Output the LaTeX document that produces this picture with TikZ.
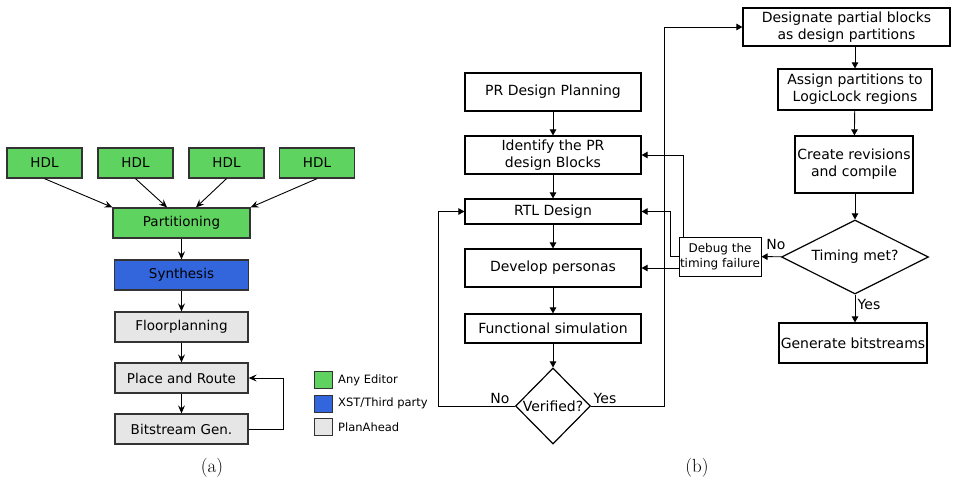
\documentclass[tikz,border=0pt]{standalone}
\usepackage{fontspec}
\newfontfamily\verd{DejaVu Sans}
\usepackage{tikz}
\usetikzlibrary{arrows.meta}
\usetikzlibrary{shapes.geometric}

\definecolor{editorgreen}{RGB}{95,211,95}
\definecolor{xstblue}{RGB}{51,102,221}
\definecolor{plangrey}{RGB}{230,230,230}

\begin{document}
\begin{tikzpicture}[x=1pt,y=-1pt,
  ablock/.style={draw=black!80,line width=1.3pt,inner sep=0pt,minimum height=30pt,font=\verd\fontsize{13.5}{15}\selectfont},
  bblock/.style={draw,line width=1.2pt,inner sep=0pt,align=center,font=\verd\fontsize{14}{17}\selectfont},
  bdec/.style={bblock,diamond,aspect=1},
  key/.style={draw=black!80,line width=1pt,inner sep=0pt,minimum width=18pt,minimum height=17pt},
  keytext/.style={anchor=west,inner sep=0pt,font=\verd\fontsize{11.5}{13}\selectfont},
  aarrow/.style={-{Stealth[length=8pt,width=7pt,inset=3pt]},line width=0.9pt},
  barrow/.style={-{Triangle[length=6pt,width=6.5pt]},line width=0.9pt},
  flowlabel/.style={inner sep=0pt,font=\verd\fontsize{14}{15}\selectfont}]
  \useasboundingbox (0,0) rectangle (958,485);

  %(a) tool flow
  \node[ablock,fill=editorgreen,minimum width=75pt] (hdl1) at (44.5,163) {HDL};
  \node[ablock,fill=editorgreen,minimum width=75pt] (hdl2) at (135.5,163) {HDL};
  \node[ablock,fill=editorgreen,minimum width=75pt] (hdl3) at (226.5,163) {HDL};
  \node[ablock,fill=editorgreen,minimum width=75pt] (hdl4) at (317,163) {HDL};
  \node[ablock,fill=editorgreen,minimum width=137pt] (part) at (181.5,223) {Partitioning};
  \node[ablock,fill=xstblue,minimum width=134pt] (synth) at (181.5,275) {Synthesis};
  \node[ablock,fill=plangrey,minimum width=133pt] (floor) at (181.5,327) {Floorplanning};
  \node[ablock,fill=plangrey,minimum width=133pt] (pnr) at (181.5,378) {Place and Route};
  \node[ablock,fill=plangrey,minimum width=133pt] (bitgen) at (181.5,429) {Bitstream Gen.};

  \draw[aarrow] (hdl1.south) -- (part.north west);
  \draw[aarrow] (hdl2.south) -- ([xshift=-14.5pt]part.north);
  \draw[aarrow] (hdl3.south) -- ([xshift=14.5pt]part.north);
  \draw[aarrow] (hdl4.south) -- (part.north east);
  \draw[aarrow] (part) -- (synth);
  \draw[aarrow] (synth) -- (floor);
  \draw[aarrow] (floor) -- (pnr);
  \draw[aarrow] (pnr) -- (bitgen);
  \draw[aarrow] (bitgen.east) -- ++(35,0) |- (pnr.east);

  %legend
  \node[key,fill=editorgreen] (k1) at (323,380) {};
  \node[key,fill=xstblue] (k2) at (323,403.5) {};
  \node[key,fill=plangrey] (k3) at (323,427) {};
  \node[keytext] at (338,380) {Any Editor};
  \node[keytext] at (338,403.5) {XST/Third party};
  \node[keytext] at (338,427) {PlanAhead};

  \node[font=\fontsize{19}{21}\selectfont] at (212,468) {(a)};

  %(b) left column
  \node[bblock,minimum width=176pt,minimum height=38pt] (plan) at (553,92) {PR Design Planning};
  \node[bblock,minimum width=176pt,minimum height=38pt] (ident) at (553,155) {Identify the PR\\design Blocks};
  \node[bblock,minimum width=176pt,minimum height=25pt] (rtl) at (553,211.5) {RTL Design};
  \node[bblock,minimum width=176pt,minimum height=38pt] (dev) at (553,268) {Develop personas};
  \node[bblock,minimum width=176pt,minimum height=29pt] (func) at (553,328.5) {Functional simulation};
  \node[bdec,minimum width=75pt,minimum height=76pt] (verif) at (553,406) {Verified?};

  \draw[barrow] (plan) -- (ident);
  \draw[barrow] (ident) -- (rtl);
  \draw[barrow] (rtl) -- (dev);
  \draw[barrow] (dev) -- (func);
  \draw[barrow] (func) -- (verif);

  %(b) right column
  \node[bblock,minimum width=207pt,minimum height=38pt] (desig) at (846.5,27) {Designate partial blocks\\as design partitions};
  \node[bblock,minimum width=154pt,minimum height=41pt] (assign) at (855,89.5) {Assign partitions to\\LogicLock regions};
  \node[bblock,minimum width=118pt,minimum height=57pt] (create) at (854,164.5) {Create revisions\\and compile};
  \node[bdec,aspect=2,minimum width=147pt,minimum height=74pt] (timing) at (855,257) {Timing met?};
  \node[bblock,minimum width=148pt,minimum height=40pt] (gen) at (853,343) {Generate bitstreams};
  \node[bblock,minimum width=82pt,minimum height=39pt,line width=1pt,font=\verd\fontsize{12}{15}\selectfont] (debug) at (720,256.5) {Debug the\\timing failure};

  \draw[barrow] (assign.north |- desig.south) -- (assign.north);
  \draw[barrow] (assign) -- (create);
  \draw[barrow] (create.south -| timing.north) -- (timing.north);
  \draw[barrow] (timing.south) -- (timing.south |- gen.north);
  \draw[barrow] (timing) -- (debug);

  %feedback
  \draw[barrow] (verif.west) -- ++(-76,0) |- (rtl.west);
  \draw[barrow] (verif.east) -- ++(73,0) |- (desig.west);
  \draw[barrow] ([xshift=5pt]debug.north west) |- (ident.east);
  \draw[barrow] (debug.west) -- ++(-8,0) |- (rtl.east);
  \draw[barrow] (dev.east -| debug.west) -- (dev.east);

  \node[flowlabel] at (500,398) {No};
  \node[flowlabel] at (605,398) {Yes};
  \node[flowlabel] at (776,244) {No};
  \node[flowlabel] at (869,304) {Yes};

  \node[font=\fontsize{19}{21}\selectfont] at (697,468) {(b)};
\end{tikzpicture}
\end{document}
